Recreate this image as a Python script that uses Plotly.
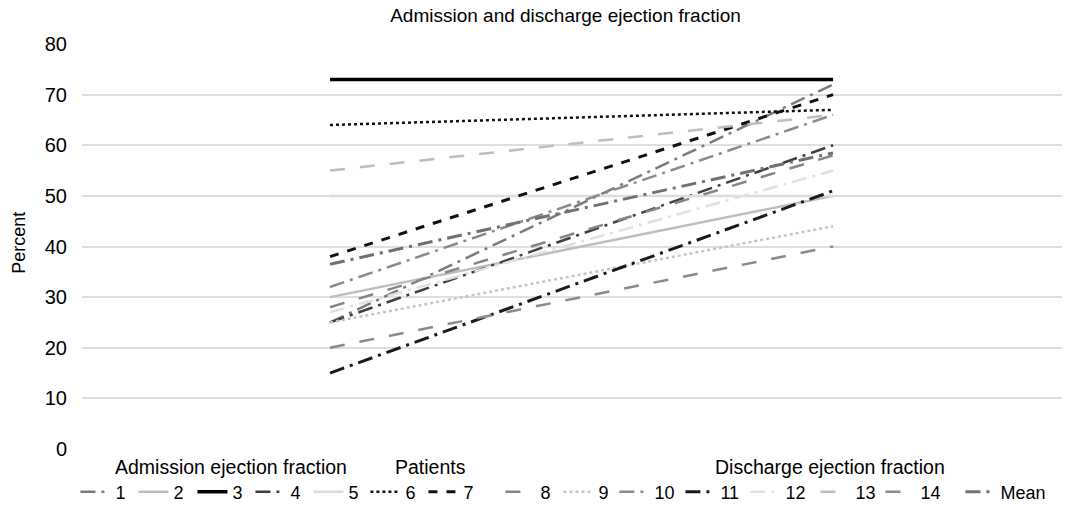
import plotly.graph_objects as go

stages = ["Admission ejection fraction", "Discharge ejection fraction"]
series_names = ["1", "2", "3", "4", "5", "6", "7", "8", "9", "10", "11", "12", "13", "14", "Mean"]
admission = [25, 30, 73, 25, 50, 64, 38, 28, 25, 32, 15, 27, 55, 20, 36.5]
discharge = [72, 50, 73, 60, 50, 67, 70, 58, 44, 66, 51, 55, 66, 40, 58.5]
y_ticks = [0, 10, 20, 30, 40, 50, 60, 70, 80]
axis_labels = ["Admission ejection fraction", "Patients", "Discharge ejection fraction"]

colors = ["#7a7a7a", "#bdbdbd", "#000000", "#3f3f3f", "#dcdcdc", "#111111", "#111111",
          "#858585", "#c4c4c4", "#8a8a8a", "#1a1a1a", "#e0e0e0", "#bdbdbd", "#8a8a8a", "#707070"]
dashes = ["longdashdot", "solid", "solid", "longdashdot", "solid", "dot", "dash",
          "longdash", "dot", "longdashdot", "longdashdot", "longdashdot", "longdash", "longdash", "longdashdot"]
widths = [2.5, 2.5, 3.5, 2.5, 2.5, 2.5, 3, 2.5, 2.5, 2.5, 3, 2.5, 2.5, 2.5, 3]
# legend entry widths (px) so that entries spread like the reference legend
legend_widths = [13, 14, 13, 13, 12, 13, 32, 13, 11, 21, 20, 25, 20, 35, 46]

x_pos = [0, 1]

fig = go.Figure()
for i, name in enumerate(series_names):
    fig.add_trace(go.Scatter(
        x=x_pos, y=[admission[i], discharge[i]], mode="lines", name=name,
        line=dict(color=colors[i], dash=dashes[i], width=widths[i]),
        hovertext=stages, legendwidth=legend_widths[i],
    ))

FONT = "Liberation Sans, Arial, sans-serif"
fig.update_layout(
    width=1071, height=507,
    margin=dict(l=82, r=9, t=44, b=58, autoexpand=False),
    paper_bgcolor="white", plot_bgcolor="white",
    font=dict(family=FONT, size=18, color="#000"),
    title=dict(text="Admission and discharge ejection fraction", x=0.528, xanchor="center",
               y=0.970, yanchor="middle", font=dict(size=19)),
    showlegend=True,
    legend=dict(orientation="h", x=-0.0067, xanchor="left", y=-0.106, yanchor="middle",
                font=dict(size=18), itemwidth=30, tracegroupgap=0,
                bgcolor="rgba(0,0,0,0)"),
    xaxis=dict(range=[-0.493, 1.455], showgrid=False, zeroline=False, showticklabels=False,
               showline=False, fixedrange=True),
    yaxis=dict(range=[0, 80], tickvals=y_ticks, gridcolor="#dedede", gridwidth=1.5,
               zeroline=False, showline=False, ticks="", ticklen=0,
               ticklabelstandoff=14, tickfont=dict(size=20)),
)

fig.add_annotation(text="Percent", x=(19 - 82) / 980, y=0.509, xref="paper", yref="paper",
                   showarrow=False, textangle=-90, xanchor="center", yanchor="middle",
                   font=dict(size=18))

label_x = [0.152, 0.356, 0.763]
for txt, lx in zip(axis_labels, label_x):
    fig.add_annotation(text=txt, x=lx, y=-0.044, xref="paper", yref="paper",
                       showarrow=False, xanchor="center", yanchor="middle",
                       font=dict(size=19.5))

fig.write_html("out.html", config={"displayModeBar": False},
               post_script="document.body.style.margin='0';document.body.style.overflow='hidden';")
